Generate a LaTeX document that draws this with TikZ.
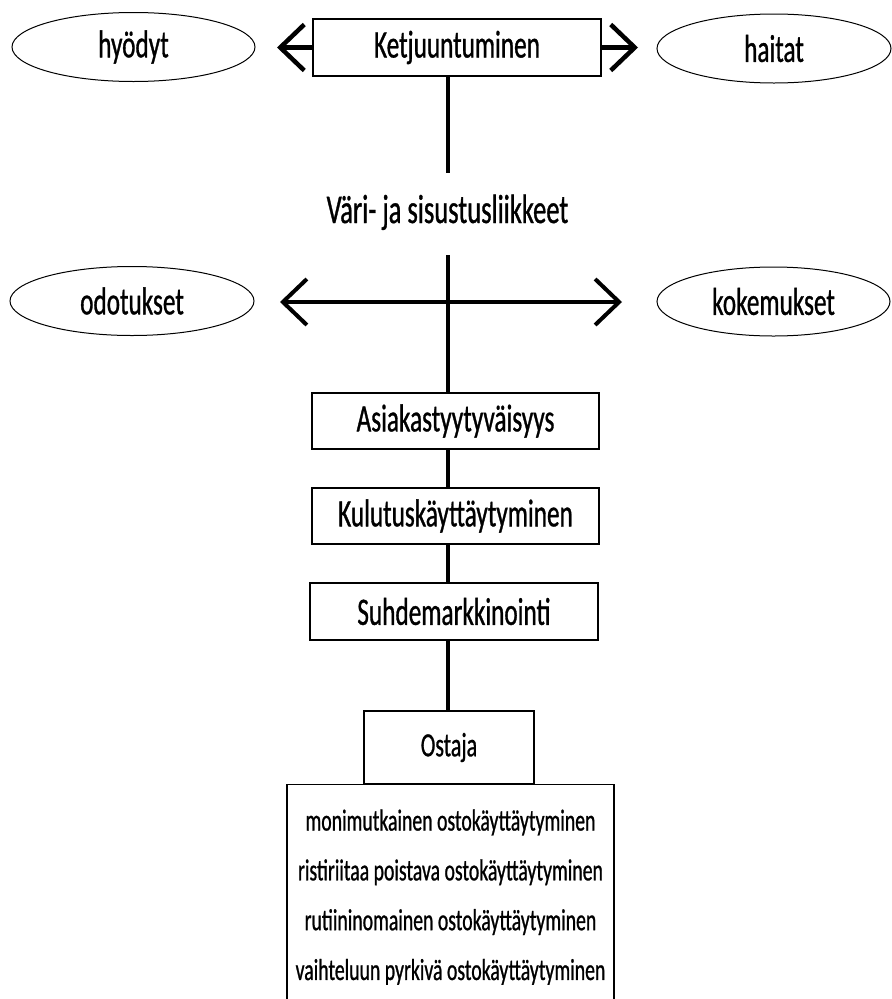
\documentclass[tikz,border=0pt]{standalone}
\usepackage{fontspec}
\setmainfont{Carlito}[FakeStretch=0.65,FakeBold=0.8]
\usetikzlibrary{arrows.meta,shapes.geometric}

\tikzset{
  laatikko/.style={draw, line width=1.3bp, minimum width=288bp, minimum height=57bp,
    inner sep=0pt, font=\fontsize{39}{42}\selectfont},
  soikio/.style={draw, ellipse, line width=1bp, minimum width=243bp, minimum height=69bp,
    inner sep=0pt, font=\fontsize{39}{42}\selectfont},
  viiva/.style={line width=4bp},
  karki/.tip={Straight Barb[length=24bp,width=46bp]},
  nuoli/.style={line width=4.5bp, -karki},
  kaksinuoli/.style={line width=4bp, karki-karki},
}

\begin{document}
\begin{tikzpicture}[x=1bp,y=-1bp]
  \useasboundingbox (0,0) rectangle (892,999);
  % pisteet
  \coordinate (risti) at (448,302);
  \coordinate (vasen1) at (277,47.5);
  \coordinate (oikea1) at (638,47.5);
  \coordinate (vasen2) at (280,302);
  \coordinate (oikea2) at (622,302);
  \coordinate (ylapaa) at (448,173);
  \coordinate (varipaa) at (448,255);

  % ylarivi
  \node[laatikko] (ketju) at (457,47.5) {Ketjuuntuminen};
  \node[soikio] (hyodyt) at (133.5,47) {hyödyt};
  \node[soikio, minimum width=234bp] (haitat) at (774,48.5) {haitat};
  \draw[nuoli] (ketju.west) -- (vasen1);
  \draw[nuoli] (ketju.east) -- (oikea1);
  \draw[viiva] (ketju.south -| risti) -- (ylapaa);

  \node[anchor=base, font=\fontsize{41}{44}\selectfont] (vari) at (447.5,223) {Väri- ja sisustusliikkeet};

  % keskirivi
  \node[soikio, minimum width=244bp] (odotukset) at (132,301) {odotukset};
  \node[soikio, minimum width=233bp] (kokemukset) at (773.5,301.5) {kokemukset};
  \draw[kaksinuoli] (vasen2) -- (oikea2);

  % laatikot
  \node[laatikko, minimum width=287bp, minimum height=56bp] (asiakas) at (455.5,421) {Asiakastyytyväisyys};
  \node[laatikko, minimum width=287bp, minimum height=56bp] (kulutus) at (455.5,516) {Kulutuskäyttäytyminen};
  \node[laatikko] (suhde) at (454,611.5) {Suhdemarkkinointi};
  \node[laatikko, minimum width=170bp, minimum height=73bp,
    font=\fontsize{34}{37}\selectfont] (ostaja) at (449,747.5) {Ostaja};
  \node[laatikko, anchor=north, minimum width=327bp, minimum height=225bp, align=center,
    font=\fontsize{30.5}{50}\selectfont] (tyypit) at (450.5,784)
    {monimutkainen ostokäyttäytyminen\\
     ristiriitaa poistava ostokäyttäytyminen\\
     rutiininomainen ostokäyttäytyminen\\
     vaihteluun pyrkivä ostokäyttäytyminen};

  \draw[viiva] (varipaa) -- (asiakas.north -| risti);
  \draw[viiva] (asiakas.south -| risti) -- (kulutus.north -| risti);
  \draw[viiva] (kulutus.south -| risti) -- (suhde.north -| risti);
  \draw[viiva] (suhde.south -| risti) -- (ostaja.north -| risti);
\end{tikzpicture}
\end{document}
